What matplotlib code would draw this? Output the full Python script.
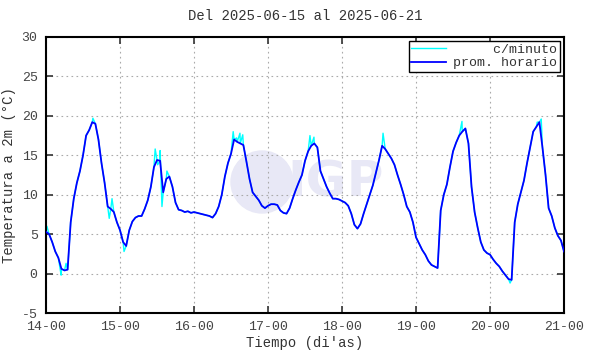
import numpy as np
import matplotlib
matplotlib.use("Agg")
import matplotlib.pyplot as plt
from matplotlib.patches import Ellipse

plt.rcParams['font.family'] = ['Liberation Mono', 'DejaVu Sans Mono']
plt.rcParams['axes.unicode_minus'] = False

# promedio horario, dias 14 a 20 (24 valores por dia) + 21-00
dia14 = [5.3, 5.0, 4.0, 2.8, 2.0, 0.6, 0.4, 0.5, 6.5, 9.5, 11.5, 13.0,
         15.0, 17.5, 18.2, 19.2, 19.0, 17.0, 14.0, 11.5, 8.5, 8.2, 7.8, 6.5]
dia15 = [5.5, 4.0, 3.5, 5.5, 6.6, 7.1, 7.3, 7.3, 8.2, 9.3, 11.0, 13.5,
         14.4, 14.3, 10.3, 12.0, 12.3, 11.0, 9.0, 8.1, 8.0, 7.8, 7.9, 7.7]
dia16 = [7.8, 7.7, 7.6, 7.5, 7.4, 7.3, 7.1, 7.6, 8.5, 10.0, 12.3, 14.0,
         15.2, 17.0, 16.7, 16.5, 16.3, 14.2, 12.0, 10.3, 9.8, 9.3, 8.6, 8.3]
dia17 = [8.6, 8.8, 8.8, 8.7, 8.0, 7.7, 7.6, 8.3, 9.5, 10.6, 11.6, 12.5,
         14.3, 15.5, 16.2, 16.5, 16.0, 13.0, 12.0, 11.0, 10.2, 9.5, 9.5, 9.4]
dia18 = [9.2, 9.0, 8.6, 7.6, 6.2, 5.7, 6.3, 7.6, 8.8, 10.0, 11.2, 12.8,
         14.4, 16.2, 15.8, 15.2, 14.6, 13.8, 12.5, 11.3, 10.0, 8.5, 7.8, 6.5]
dia19 = [4.6, 3.8, 3.0, 2.4, 1.6, 1.1, 0.9, 0.7, 8.0, 10.0, 11.3, 13.5,
         15.5, 16.6, 17.5, 18.0, 18.4, 16.5, 11.0, 7.8, 5.8, 4.0, 3.0, 2.6]
dia20 = [2.4, 1.8, 1.3, 0.9, 0.3, -0.2, -0.7, -0.8, 6.5, 8.8, 10.3, 11.8,
         14.0, 16.0, 18.0, 18.6, 19.2, 16.0, 12.5, 8.3, 7.3, 5.8, 4.8, 4.2]
final = [2.8]

horario = dia14 + dia15 + dia16 + dia17 + dia18 + dia19 + dia20 + final
horas = np.arange(len(horario))

# picos visibles de la serie por minuto (hora desde 14-00, temperatura)
pico_h = [0.3, 4.9, 6.5, 15.2, 20.5, 21.4, 22.4, 25.3, 35.4, 36.2, 37.0,
          37.6, 39.2, 60.7, 61.8, 62.9, 63.8, 85.6, 86.9, 109.3, 134.9,
          150.5, 159.3, 160.6]
pico_t = [6.0, -0.2, 1.3, 19.7, 7.0, 9.5, 7.2, 2.8, 15.8, 13.8, 15.6,
          8.5, 13.0, 18.0, 17.2, 17.8, 17.6, 17.5, 17.3, 17.8, 19.3,
          -1.2, 19.2, 19.6]

min_h = np.concatenate([horas, pico_h])
min_t = np.concatenate([horario, pico_t])
orden = np.argsort(min_h)
min_h = min_h[orden]
min_t = min_t[orden]

etiquetas = ['14-00', '15-00', '16-00', '17-00', '18-00', '19-00', '20-00', '21-00']

fig = plt.figure(figsize=(5.9, 3.54), dpi=100)
ax = fig.add_axes([0.078, 0.1158, 0.878, 0.7797])

# marca de agua IGP
fig.patches.append(Ellipse((262 / 590, 1 - 182 / 354), 62 / 590, 62 / 354,
                           transform=fig.transFigure, color='#e8e8f6', zorder=-1))
fig.text(287 / 590, 1 - 183 / 354, 'IGP', family='DejaVu Sans', weight='bold',
         fontsize=36, color='#e8e8f6', va='center', ha='left', zorder=-1)
ax.set_facecolor('none')

ax.plot(min_h, min_t, color='#00ffff', lw=1.0, label='     c/minuto', zorder=2)
ax.plot(horas, horario, color='#0000ff', lw=1.3, label='prom. horario', zorder=3)

ax.set_xlim(0, 168)
ax.set_ylim(-5, 30)
ax.set_xticks(np.arange(0, 169, 24))
ax.set_xticklabels(etiquetas)
ax.set_yticks(np.arange(-5, 31, 5))
ax.tick_params(direction='in', length=5, width=1.2, top=True, right=True,
               labelsize=9.5, colors='#333333', pad=6)
ax.tick_params(axis='both', labelcolor='#444444')
ax.grid(True, linestyle=(0, (1.5, 3)), color='#aaaaaa', lw=0.8)
for s in ax.spines.values():
    s.set_linewidth(1.5)

ax.set_title('Del 2025-06-15 al 2025-06-21', fontsize=10, color='#333333', pad=12)
ax.set_xlabel("Tiempo (di'as)", fontsize=10, color='#333333', labelpad=2)
ax.set_ylabel('Temperatura a 2m (°C)', fontsize=10, color='#333333', labelpad=4)

leg = ax.legend(loc='upper right', fontsize=9.5, frameon=True, fancybox=False,
                edgecolor='black', framealpha=1, borderpad=0.2, handlelength=2.6,
                labelspacing=0.1, handletextpad=0.6, borderaxespad=0.3)
leg.get_frame().set_linewidth(1.0)
for t in leg.get_texts():
    t.set_color('#333333')

fig.savefig('out.png', dpi=100)
